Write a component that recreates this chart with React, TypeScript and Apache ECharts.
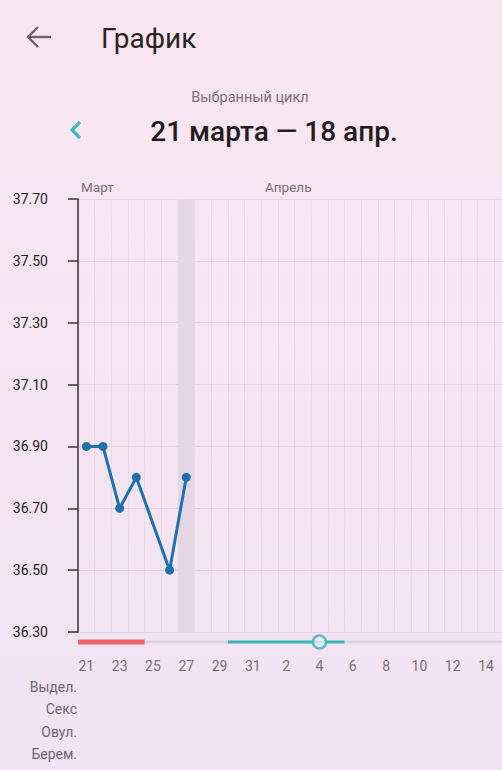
import React, { useEffect, useRef } from 'react';
import * as echarts from 'echarts';

const days = ['21','22','23','24','25','26','27','28','29','30','31','1','2','3','4','5','6','7','8','9','10','11','12','13','14','15','16','17','18'];
const monthLabels = ['Март', 'Апрель'];
const temperatures: (number | null)[] = [36.9, 36.9, 36.7, 36.8, null, 36.5, 36.8, null, null, null, null, null, null, null, null, null, null, null, null, null, null, null, null, null, null, null, null, null, null];
const tempMin = 36.3;
const tempMax = 37.7;
const tempStep = 0.2;
const shadedDays = ['27'];
const periodRange = ['21', '24'];
const fertileRange = ['30', '5'];
const ovulationDay = '4';
const rowLabels = ['Выдел.', 'Секс', 'Овул.', 'Берем.'];
const titleText = 'График';
const subtitleText = 'Выбранный цикл';
const rangeText = '21 марта — 18 апр.';

const FONT = 'Roboto, "Noto Sans", sans-serif';

export default function App() {
  const ref = useRef<HTMLDivElement>(null);
  useEffect(() => {
    if (!ref.current) return;
    const chart = echarts.init(ref.current, null, { renderer: 'svg' });
    const span = +(tempMax - tempMin).toFixed(2);
    const lineData = temperatures.map((t) => (t == null ? null : +(t - tempMin).toFixed(2)));
    const shadeData = days.map((d) => (shadedDays.includes(d) ? span : null));
    const stripColors = ['#ddd0dd', '#f0646b', '#33b6b6'];
    const stripH = [2.5, 5, 3];
    const stripData = [
      [0, days.length - 1, 0],
      [days.indexOf(periodRange[0]), days.indexOf(periodRange[1]), 1],
      [days.indexOf(fertileRange[0]), days.indexOf(fertileRange[1]), 2],
    ];
    const grey = '#7b6f78';
    chart.setOption({
      animation: false,
      backgroundColor: {
        type: 'linear', x: 0, y: 0, x2: 0, y2: 1,
        colorStops: [{ offset: 0, color: '#f9e6f0' }, { offset: 1, color: '#f1e3f3' }],
      },
      textStyle: { fontFamily: FONT },
      grid: [
        { left: 78, width: 483, top: 199, height: 433 },
        { left: 78, width: 483, top: 634, height: 16 },
      ],
      xAxis: [
        {
          gridIndex: 0, type: 'category', data: days, boundaryGap: true,
          axisLine: { show: false }, axisTick: { show: false }, axisLabel: { show: false },
          splitLine: { show: true, interval: 0, lineStyle: { color: 'rgba(200,165,195,0.2)', width: 1 } },
        },
        {
          gridIndex: 1, type: 'category', data: days, boundaryGap: true,
          axisLine: { show: false }, axisTick: { show: false },
          axisLabel: { interval: 1, color: grey, fontSize: 14, margin: 9, fontFamily: FONT },
          splitLine: { show: false },
        },
      ],
      yAxis: [
        {
          gridIndex: 0, type: 'value', min: 0, max: span, interval: tempStep,
          axisLine: { show: true, lineStyle: { color: '#3a3035', width: 1.5 } },
          axisTick: { show: true, length: 10, lineStyle: { color: '#3a3035', width: 1.5 } },
          axisLabel: {
            color: '#222', fontSize: 14, margin: 30, fontFamily: FONT,
            formatter: (v: number) => (v + tempMin).toFixed(2),
          },
          splitLine: { show: true, lineStyle: { color: 'rgba(200,165,195,0.32)', width: 1 } },
        },
        { gridIndex: 1, type: 'value', min: 0, max: 1, show: false },
      ],
      series: [
        {
          type: 'bar', xAxisIndex: 0, yAxisIndex: 0, data: shadeData, barWidth: '100%',
          itemStyle: { color: '#e5d6e5' }, silent: true, z: 1,
        },
        {
          type: 'line', xAxisIndex: 0, yAxisIndex: 0, data: lineData, connectNulls: true,
          symbol: 'circle', symbolSize: 9, showSymbol: true,
          lineStyle: { color: '#1c71ae', width: 3 }, itemStyle: { color: '#1c71ae' }, z: 3,
        },
        {
          type: 'custom', xAxisIndex: 1, yAxisIndex: 1, data: stripData, silent: true,
          encode: { x: [0, 1], y: 2 },
          renderItem: (params: any, api: any) => {
            const s = api.value(0), e = api.value(1), k = api.value(2);
            const bw = api.size([1, 0])[0];
            const p0 = api.coord([s, 0.5]);
            const p1 = api.coord([e, 0.5]);
            const x0 = p0[0] - bw / 2;
            const x1 = p1[0] + bw / 2;
            const h = stripH[k];
            return {
              type: 'rect',
              shape: { x: x0, y: p0[1] - h / 2, width: x1 - x0, height: h },
              style: { fill: stripColors[k] },
              z2: k,
            };
          },
          z: 2,
        },
        {
          type: 'scatter', xAxisIndex: 1, yAxisIndex: 1, data: [[ovulationDay, 0.5]],
          symbol: 'circle', symbolSize: 13, silent: true,
          itemStyle: { color: '#f6ecf5', borderColor: '#33b6b6', borderWidth: 2.5 }, z: 4,
        },
      ],
      graphic: [
        { type: 'line', shape: { x1: 28, y1: 37, x2: 51, y2: 37 }, style: { stroke: '#6e6068', lineWidth: 2.4 } },
        { type: 'polyline', shape: { points: [[38, 27], [28, 37], [38, 47]] }, style: { stroke: '#6e6068', lineWidth: 2.4, fill: null } },
        { type: 'text', x: 101, y: 38, style: { text: titleText, font: `28px ${FONT}`, fill: '#2b2228', textVerticalAlign: 'middle' } },
        { type: 'text', x: 250, y: 97, style: { text: subtitleText, font: `14.5px ${FONT}`, fill: grey, textAlign: 'center', textVerticalAlign: 'middle' } },
        { type: 'polyline', shape: { points: [[80, 122], [72, 130], [80, 138]] }, style: { stroke: '#3bbcbc', lineWidth: 3.2, fill: null } },
        { type: 'text', x: 274, y: 131, style: { text: rangeText, font: `500 28px ${FONT}`, fill: '#221c20', textAlign: 'center', textVerticalAlign: 'middle' } },
        { type: 'text', x: 81, y: 187, style: { text: monthLabels[0], font: `13.5px ${FONT}`, fill: grey, textVerticalAlign: 'middle' } },
        { type: 'text', x: 265, y: 187, style: { text: monthLabels[1], font: `13.5px ${FONT}`, fill: grey, textVerticalAlign: 'middle' } },
        ...rowLabels.map((t, i) => ({
          type: 'text', x: 77, y: 687 + i * 22.4,
          style: { text: t, font: `14px ${FONT}`, fill: '#6f6570', textAlign: 'right', textVerticalAlign: 'middle' },
        })),
      ],
    });
    return () => chart.dispose();
  }, []);
  return (
    <div style={{ position: 'fixed', left: 0, top: 0, width: 502, height: 770, overflow: 'hidden' }}>
      <div ref={ref} style={{ width: 570, height: 770 }} />
    </div>
  );
}
